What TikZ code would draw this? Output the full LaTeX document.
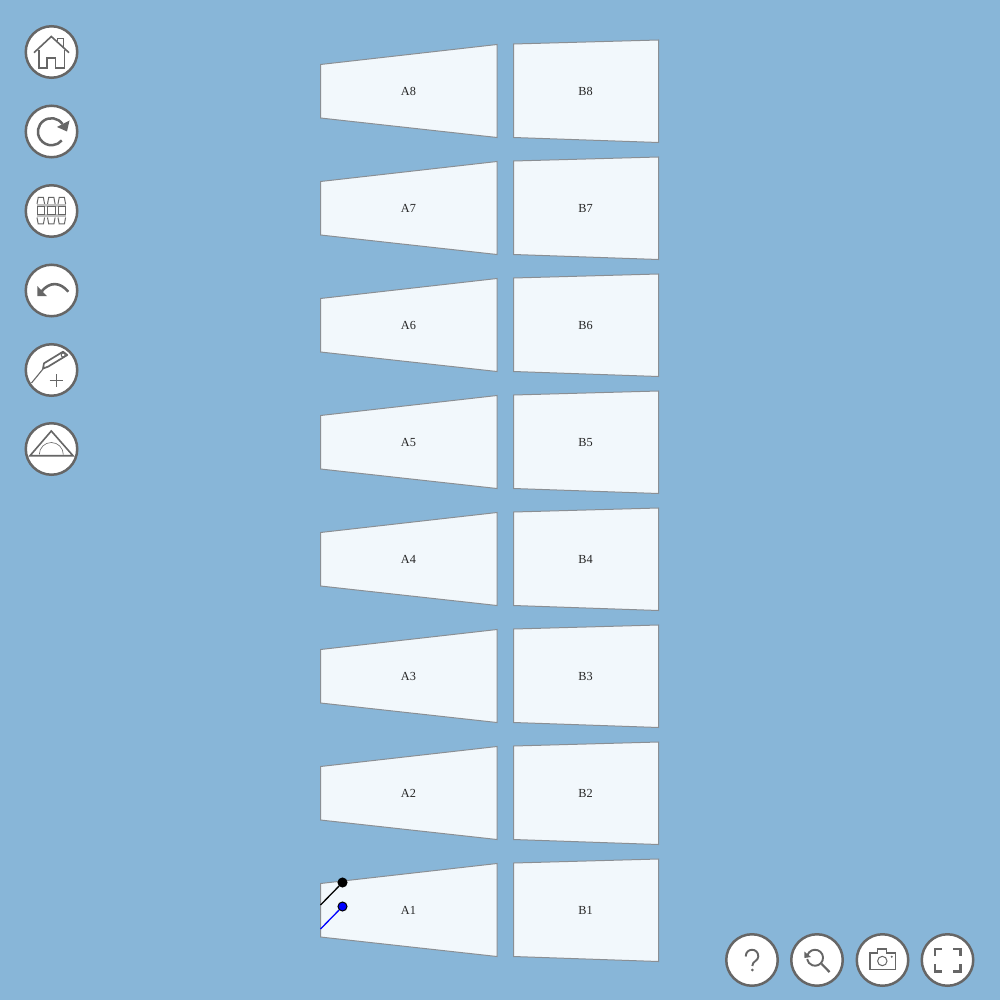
\documentclass[tikz,border=0pt]{standalone}
\usepackage{fontspec}
\setmainfont{Liberation Serif}
\definecolor{bgblue}{HTML}{88B6D8}
\definecolor{panelfill}{HTML}{F2F8FC}
\definecolor{iconline}{HTML}{666666}
\definecolor{paneledge}{HTML}{8A8F94}
\tikzset{
  panel/.style={draw=paneledge, fill=panelfill, line width=1pt},
  iconbtn/.style={circle, draw=iconline, fill=white, line width=2.5pt, minimum size=51.5pt, inner sep=0pt},
  iconpen/.style={draw=iconline, line width=1.6pt},
  iconthin/.style={draw=iconline, line width=1pt},
  iconsolid/.style={fill=iconline},
  paneltext/.style={font=\fontsize{12.3}{13}\selectfont, text=black!85},
  handle/.style={circle, draw=black, line width=1pt, minimum size=9pt, inner sep=0pt},
}
\begin{document}
\begin{tikzpicture}[x=1pt, y=-1pt]
    \useasboundingbox (0,0) rectangle (1000,1000);
    \fill[bgblue] (0,0) rectangle (1000,1000);
    % panels
    \foreach \n in {1,...,8} {
      \pgfmathsetmacro{\dy}{(8-\n)*117}
      \begin{scope}[yshift=-\dy pt]
        \draw[panel] (320.5,64.5) -- (497,44.5) -- (497,137.5) -- (320.5,118) -- cycle;
        \draw[panel] (513.5,44) -- (658.5,40) -- (658.5,142.5) -- (513.5,137.5) -- cycle;
        \node[paneltext] (A\n) at (408.5,91.3) {A\n};
        \node[paneltext] (B\n) at (585.5,91.3) {B\n};
      \end{scope}
    }
    % handles on A1
    \coordinate (blackfoot) at (320.5,905);
    \coordinate (bluefoot) at (320.5,929);
    \node[handle, fill=black] (blackpt) at (342.5,882.5) {};
    \node[handle, fill=blue] (bluept) at (342.5,906.5) {};
    \draw[black, line width=1.3pt] (blackfoot) -- (blackpt);
    \draw[blue, line width=1.3pt] (bluefoot) -- (bluept);
    % buttons
    \node[iconbtn] (home) at (51.5,52) {};
    \node[iconbtn] (reload) at (51.5,131.5) {};
    \node[iconbtn] (grid) at (51.5,211) {};
    \node[iconbtn] (undo) at (51.5,290.5) {};
    \node[iconbtn] (pencil) at (51.5,370) {};
    \node[iconbtn] (ruler) at (51.5,449) {};
    \node[iconbtn] (help) at (752,960) {};
    \node[iconbtn] (zoomback) at (817,960) {};
    \node[iconbtn] (camera) at (882.5,960) {};
    \node[iconbtn] (full) at (947.5,960) {};
    % home
    \draw[iconpen] (34,52.7) -- (51.3,36.5) -- (69,52.7);
    \draw[iconthin] (57.7,41) -- (57.7,39) -- (63,39) -- (63,47);
    \draw[iconpen] (39,50) -- (39,68) -- (46.7,68) -- (46.7,58.3) -- (55.3,58.3) -- (55.3,68) -- (64.3,68) -- (64.3,50);
    % reload
    \draw[iconpen, line width=2.5pt] (62.5,124) arc[start angle=35, end angle=320, radius=13.5pt];
    \fill[iconsolid] (69.5,120.5) -- (67,131.5) -- (57,127) -- cycle;
    % grid
    \fill[black!25] (37,204) rectangle (66,207);
    \fill[black!25] (37,214.5) rectangle (66,217.5);
    \foreach \x in {40.8,51.3,61.8} {
      \draw[iconthin] (\x-3.8,204) -- (\x-2.6,197.5) -- (\x+2.6,197.5) -- (\x+3.8,204);
      \draw[iconthin] (\x-3.8,207) rectangle (\x+3.8,214.5);
      \draw[iconthin] (\x-3.8,217.5) -- (\x-2.6,224) -- (\x+2.6,224) -- (\x+3.8,217.5);
    }
    % undo
    \draw[iconpen, line width=2.6pt] (68.3,291.7) .. controls (60,282) and (50,281) .. (41,292);
    \fill[iconsolid] (37.3,286) -- (37.3,296.2) -- (47,296.2) -- cycle;
    % pencil
    \draw[iconthin, line width=1.1pt] (31.5,383) -- (43,369);
    \draw[iconpen, line width=1.7pt, line join=round] (44,363.3) -- (63,351.7) -- (67.3,355) -- (48,366.7) -- (43,368.5) -- cycle;
    \draw[iconthin] (63.2,355) circle[radius=2pt];
    \draw[iconthin, line width=1.2pt] (49.7,380.5) -- (63,380.5) (56.4,374) -- (56.4,387);
    % set square
    \draw[iconpen] (30,455.7) -- (51.3,431) -- (73,455.7) -- cycle;
    \draw[iconthin, line width=.6pt] (39.3,454.5) arc[start angle=180, end angle=0, radius=12pt];
    % help
    \draw[iconpen, line width=1.9pt] (745.7,956.5) .. controls (745.7,947.5) and (758.3,947.5) .. (758.3,956.5) .. controls (758.3,961) and (752.3,961) .. (752.3,966);
    \fill[iconsolid] (752.3,970) circle[radius=1.5pt];
    % zoom back
    \draw[iconpen, line width=1.9pt] (807.5,955) arc[start angle=160, end angle=-170, radius=8pt];
    \draw[iconpen, line width=2.2pt] (821.7,964) -- (829.5,972);
    \fill[iconsolid] (804.3,951.5) -- (804.5,958) -- (811,957) -- cycle;
    % camera
    \draw[iconpen, line width=1.9pt] (870,953.3) -- (870,969.5) -- (895.5,969.5) -- (895.5,953.3) -- (886.5,953.3) -- (886.5,948.8) -- (877.5,948.8) -- (877.5,953.3) -- cycle;
    \draw[iconthin] (882.3,961) circle[radius=4.7pt];
    \fill[iconsolid] (891.7,956.7) circle[radius=1.1pt];
    % fullscreen
    \draw[iconpen, line width=2.4pt] (935,956) -- (935,949) -- (942,949);
    \draw[iconpen, line width=2.4pt] (953,949) -- (960.5,949) -- (960.5,956);
    \draw[iconpen, line width=2.4pt] (935,964) -- (935,971.5) -- (942,971.5);
    \draw[iconpen, line width=2.4pt] (953,971.5) -- (960.5,971.5) -- (960.5,964);
\end{tikzpicture}
\end{document}
